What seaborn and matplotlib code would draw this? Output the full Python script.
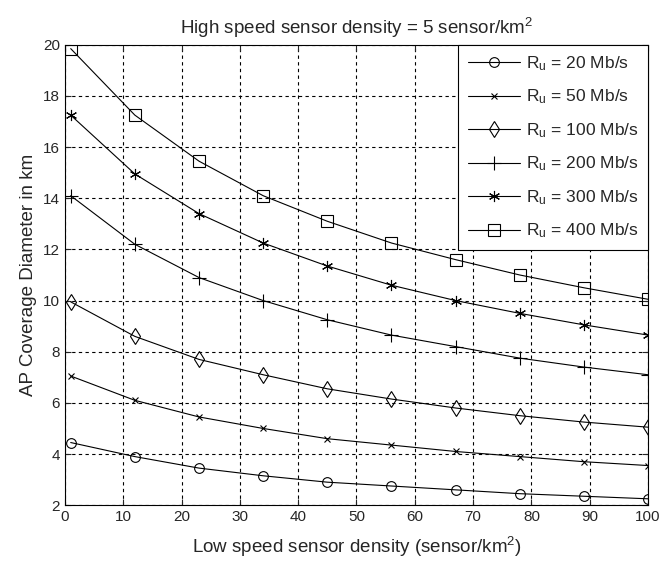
import matplotlib
matplotlib.use("Agg")
import matplotlib.pyplot as plt
import seaborn as sns
import pandas as pd

x_vals = [1, 12, 23, 34, 45, 56, 67, 78, 89, 100]
rates = ["20", "50", "100", "200", "300", "400"]
d_20 = [4.45, 3.9, 3.45, 3.15, 2.9, 2.75, 2.6, 2.45, 2.35, 2.25]
d_50 = [7.05, 6.1, 5.45, 5.0, 4.6, 4.35, 4.1, 3.9, 3.7, 3.55]
d_100 = [9.95, 8.6, 7.7, 7.1, 6.55, 6.15, 5.8, 5.5, 5.25, 5.05]
d_200 = [14.1, 12.2, 10.9, 10.0, 9.25, 8.65, 8.2, 7.75, 7.4, 7.1]
d_300 = [17.25, 14.95, 13.4, 12.25, 11.35, 10.6, 10.0, 9.5, 9.05, 8.65]
d_400 = [19.85, 17.25, 15.45, 14.1, 13.1, 12.25, 11.6, 11.0, 10.5, 10.05]
series = [d_20, d_50, d_100, d_200, d_300, d_400]
x_ticks = list(range(0, 101, 10))
y_ticks = list(range(2, 21, 2))

sns.set_style("ticks")
plt.rcParams['font.family'] = ['Liberation Sans', 'DejaVu Sans']
plt.rcParams['mathtext.fontset'] = 'custom'
plt.rcParams['mathtext.rm'] = 'Liberation Sans'
plt.rcParams['mathtext.it'] = 'Liberation Sans'

fig = plt.figure(figsize=(6.62, 5.67), dpi=100)
ax = fig.add_axes([0.098, 0.109, 0.881, 0.812])

markers = ['o', 'x', 'd', '+', (6, 2, 0), 's']
msizes = [7, 5, 8, 10, 8, 8]
for r, vals, m, ms in zip(rates, series, markers, msizes):
    df = pd.DataFrame({"x": x_vals, "y": vals})
    sns.lineplot(data=df, x="x", y="y", ax=ax, color="black", linewidth=0.8,
                 marker=m, markersize=ms, markerfacecolor='none',
                 markeredgecolor='black', markeredgewidth=0.8,
                 label=f"R$_u$ = {r} Mb/s")

ax.set_xlim(0, 100)
ax.set_ylim(2, 20)
ax.set_xticks(x_ticks)
ax.set_yticks(y_ticks)
ax.tick_params(direction='in', labelsize=11, length=4, top=True, right=True, width=0.8)
ax.grid(True, color='black', linestyle=(0, (3, 3)), linewidth=0.8)
for s in ax.spines.values():
    s.set_linewidth(0.8)
    s.set_color('black')
ax.set_xlabel("Low speed sensor density (sensor/km$^2$)", fontsize=13.5, labelpad=8)
ax.set_ylabel("AP Coverage Diameter in km", fontsize=13.5)
ax.set_title("High speed sensor density = 5 sensor/km$^2$", fontsize=13.5, pad=8)

leg = ax.legend(loc='upper right', fontsize=12.5, frameon=True, fancybox=False,
                edgecolor='black', framealpha=1, borderaxespad=0.0,
                handlelength=3.0, labelspacing=0.85, borderpad=0.55,
                handletextpad=0.35)
leg.get_frame().set_linewidth(0.8)

fig.savefig("out.png", dpi=100)
